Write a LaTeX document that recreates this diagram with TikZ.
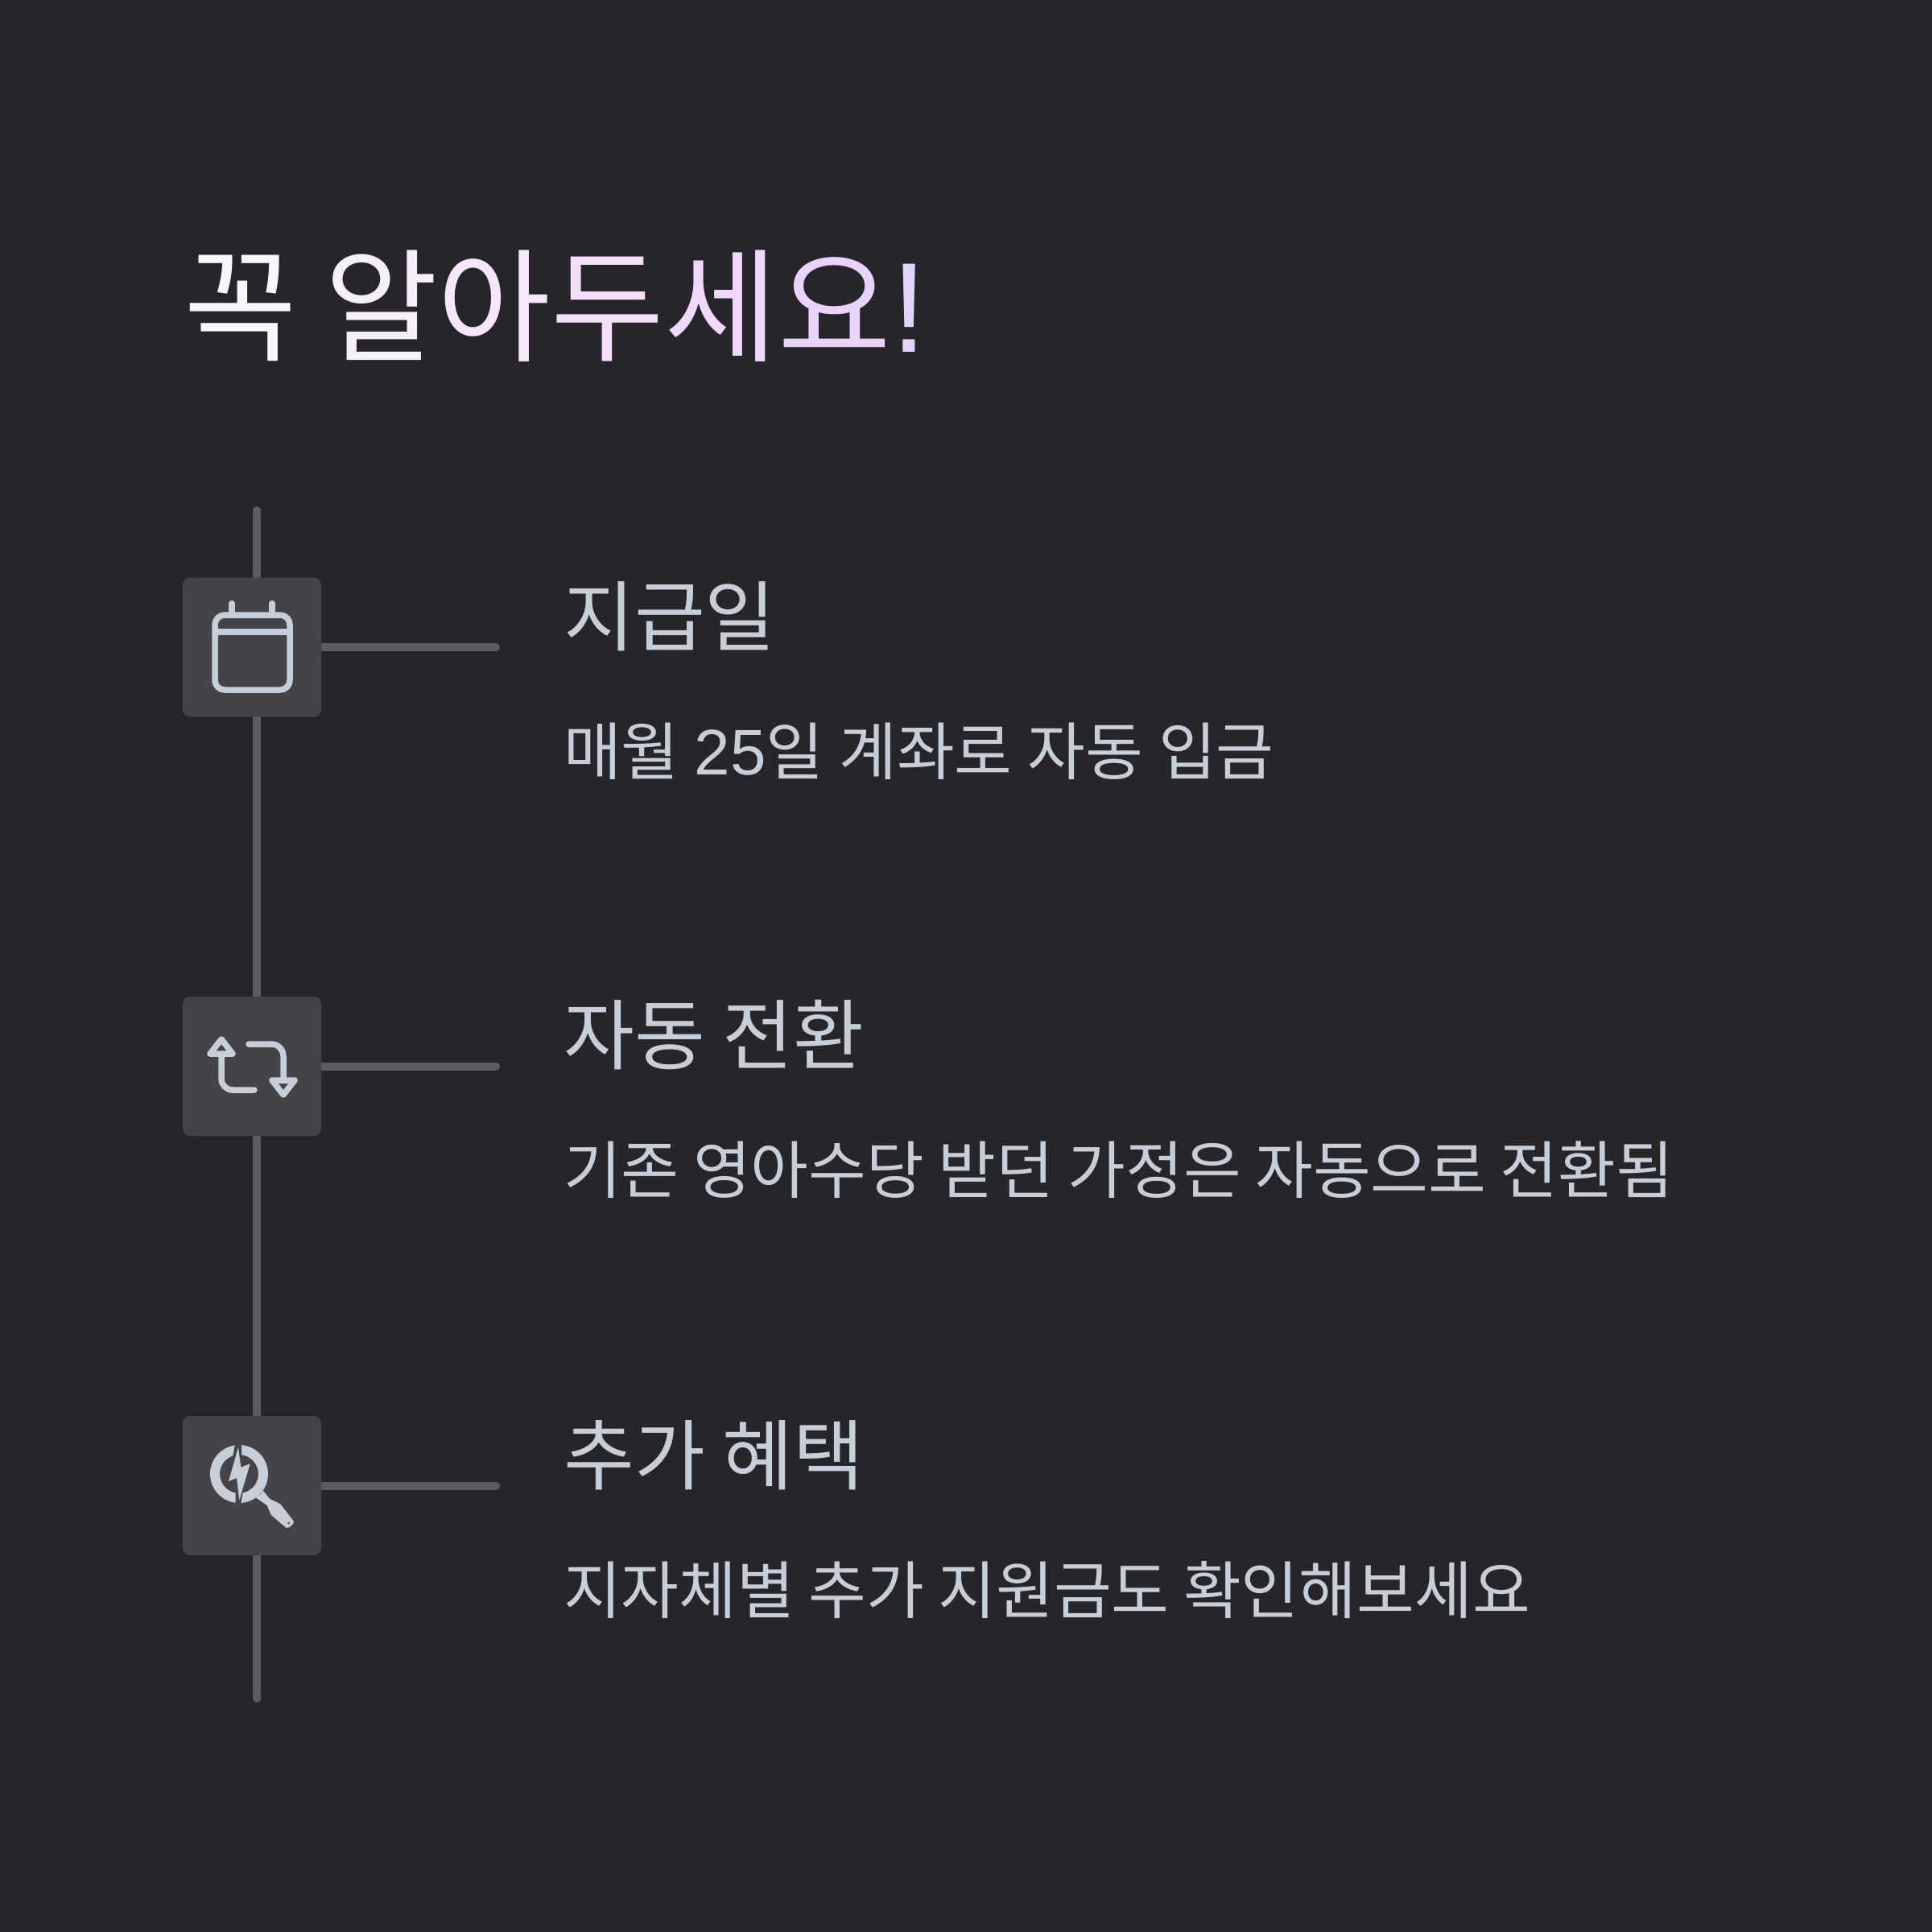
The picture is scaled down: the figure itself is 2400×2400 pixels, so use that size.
\documentclass[tikz,border=0pt]{standalone}
\usepackage{fontspec}
\setmainfont{Noto Sans CJK KR}
\newfontfamily\latfont{Liberation Sans}
\usetikzlibrary{backgrounds}
\definecolor{bg}{HTML}{25252A}
\definecolor{boxc}{HTML}{444448}
\definecolor{linec}{HTML}{5B5B60}
\definecolor{txt}{HTML}{C8CED8}
\tikzset{
  x=1pt,y=-1pt,
  iconbox/.style={draw=none,fill=boxc,rounded corners=9pt,minimum width=172pt,minimum height=173pt,inner sep=0pt,outer sep=0pt},
  wire/.style={draw=linec,line width=10pt,line cap=round},
  glyph/.style={draw=txt,line width=7.5pt,line cap=round,line join=round},
  cut/.style={fill=boxc,draw=none},
  head/.style={anchor=base west,inner sep=0pt,text=txt,font=\fontsize{95.5}{95.5}\selectfont},
  sub/.style={anchor=base west,inner sep=0pt,text=txt,font=\fontsize{78}{78}\selectfont},
  title/.style={anchor=base west,inner sep=0pt,font=\fontsize{153}{153}\selectfont},
}
\begin{document}
\begin{tikzpicture}
\begin{pgfonlayer}{background}
\fill[bg] (0,0) rectangle (2400,2400);
\end{pgfonlayer}
\useasboundingbox (0,0) rectangle (2400,2400);
\coordinate (spinetop) at (319,634);
\coordinate (spinebot) at (319,2110);
\node[iconbox] (b1) at (313,804) {};
\node[iconbox] (b2) at (313,1324.5) {};
\node[iconbox] (b3) at (313,1845.5) {};
\coordinate (e1) at (b1.east -| 616,0);
\coordinate (e2) at (b2.east -| 616,0);
\coordinate (e3) at (b3.east -| 616,0);
\begin{pgfonlayer}{background}
\draw[wire] (spinetop) -- (spinebot);
\draw[wire] (b1.center) -- (e1);
\draw[wire] (b2.center) -- (e2);
\draw[wire] (b3.center) -- (e3);
\end{pgfonlayer}
% calendar
\draw[glyph,rounded corners=12pt] (267,764) rectangle (360,857);
\draw[glyph] (267,785) -- (360,785);
\draw[glyph] (288,749.5) -- (288,764);
\draw[glyph] (338,749.5) -- (338,764);
% repeat
\draw[glyph] (275,1291) -- (261,1309) -- (289,1309) -- cycle;
\draw[glyph] (275,1309) -- (275,1340) arc[start angle=180,end angle=90,radius=14] -- (316,1354);
\draw[glyph] (309,1297) -- (337,1297) arc[start angle=-90,end angle=0,radius=15] -- (352,1342);
\draw[glyph] (338,1342) -- (366,1342) -- (352,1360) -- cycle;
% magnifier with bolt
\fill[txt,even odd rule] (297,1831) circle (36) (297,1831) circle (24);
\fill[cut] (292.7,1790) -- (300,1790) -- (300,1808) -- (289,1810) -- cycle;
\fill[cut] (292.7,1870) -- (299,1870) -- (302,1850) -- (292.7,1850) -- cycle;
\fill[txt] (296,1798) -- (284,1840) -- (294,1836) -- (297.3,1863.3) -- (310.7,1818.3) -- (299.3,1822.7) -- cycle;
\fill[txt] (327,1851.7) -- (334.7,1861.7) -- (348.3,1868.3) -- (365,1890) .. controls (366,1892) and (359,1899) .. (356,1898) -- (350,1893.3) -- (336.7,1881.7) -- (331.7,1870) -- (317.3,1860) .. controls (322,1858) and (325,1855) .. (327,1851.7) -- cycle;
\fill[boxc] (358.7,1892) circle (1.5);
% text
\node[title] (t0) at (228,437) {\textcolor[HTML]{F9F6FB}{꼭} \textcolor[HTML]{F6EFFA}{알}\textcolor[HTML]{F6E6F9}{아}\textcolor[HTML]{F5DEF8}{두}\textcolor[HTML]{F0D8FA}{세}\textcolor[HTML]{EAD3FB}{요}\textcolor[HTML]{E4D3FC}{\latfont\fontsize{159}{159}\selectfont !}};
\node[head] (h1) at (700,801) {지급일};
\node[sub] (s1) at (700,962) {매월 \hspace{1.5pt}{\latfont\fontsize{80}{80}\selectfont 25}일 \hspace{1.5pt}계좌로 \hspace{1.5pt}자동 \hspace{1.5pt}입금};
\node[head] (h2) at (700,1321) {자동 전환};
\node[sub] (s2) at (700,1482) {기존 영아수당 받던 가정은 자동으로 전환됨};
\node[head] (h3) at (700,1843) {추가 혜택};
\node[sub] (s3) at (700,2004) {지자체별 추가 지원금도 확인해보세요};
\end{tikzpicture}
\end{document}
